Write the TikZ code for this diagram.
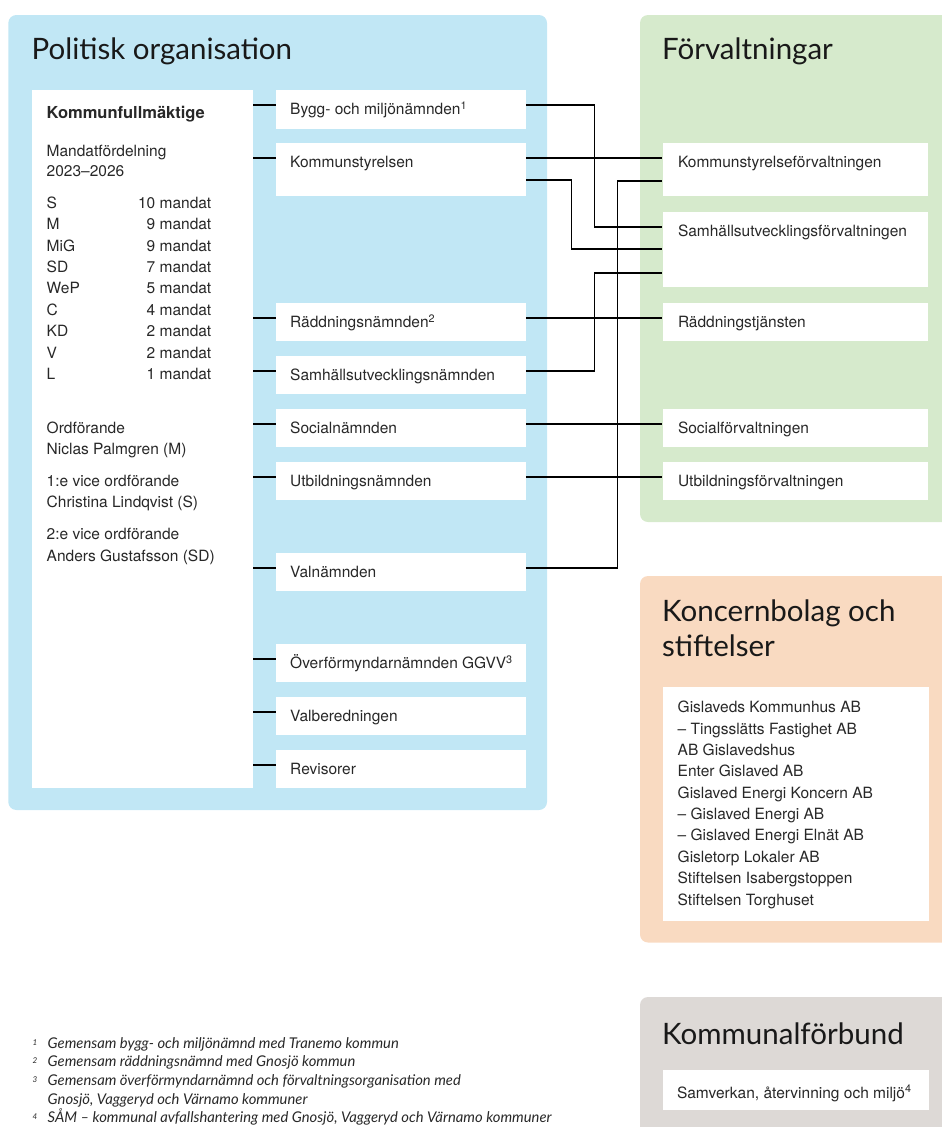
\documentclass[tikz,border=0pt]{standalone}
\usepackage{fontspec}
\setmainfont{TeX Gyre Heros}
\newfontfamily\titlefont{Lato}
\usetikzlibrary{calc}
\definecolor{polblue}{RGB}{193,231,245}
\definecolor{forgreen}{RGB}{214,234,204}
\definecolor{konorange}{RGB}{249,218,193}
\definecolor{kfgrey}{RGB}{221,217,214}
\definecolor{txtgray}{RGB}{40,40,40}
\begin{document}
\begin{tikzpicture}[x=1pt,y=-1pt,
  panel/.style={rounded corners=8pt},
  wbox/.style={fill=white, draw=none, inner sep=0pt, anchor=north west, minimum width=250pt, minimum height=37.5pt},
  gbox/.style={wbox, minimum width=265.5pt},
  txt/.style={anchor=base west, inner sep=0pt, text=txtgray, font=\fontsize{15.5}{18}\selectfont},
  ttl/.style={anchor=base west, inner sep=0pt, text=black!90, font=\titlefont\fontsize{29.5}{35}\selectfont},
  fn/.style={anchor=base west, inner sep=0pt, text=txtgray, font=\titlefont\itshape\fontsize{14.8}{17}\selectfont},
  fnn/.style={anchor=base west, inner sep=0pt, text=txtgray, font=\titlefont\itshape\fontsize{8}{9}\selectfont},
  conn/.style={draw=black, line width=1.4pt}]
\useasboundingbox (0,0) rectangle (942,1127);
% panels
\fill[polblue, panel] (8.3,15) rectangle (547,810);
\fill[forgreen, panel] (640,15) rectangle (970,522);
\fill[konorange, panel] (640,576) rectangle (970,942.5);
\fill[kfgrey, panel] (640,997) rectangle (970,1160);
% titles
\node[ttl] (t-pol) at (31.5,59.3) {Politisk organisation};
\node[ttl] (t-for) at (662,59.3) {Förvaltningar};
\node[ttl] (t-kon1) at (662,621.7) {Koncernbolag och};
\node[ttl] (t-kon2) at (662,656.7) {stiftelser};
\node[ttl] (t-kf) at (662,1044) {Kommunalförbund};
% Kommunfullmäktige box
\node[wbox, minimum width=220.6pt, minimum height=697.3pt] (kf) at (31.7,90) {};
\node[txt, font=\bfseries\fontsize{16.5}{18}\selectfont] (kf-t) at (46.5,118) {Kommunfullmäktige};
\node[txt] (kf-m1) at (46.5,156) {Mandatfördelning};
\node[txt] (kf-m2) at (46.5,176.7) {2023–2026};
\foreach \p/\n [count=\i from 0] in {S/10, M/9, MiG/9, SD/7, WeP/5, C/4, KD/2, V/2, L/1}{
  \node[txt] (kf-p\i) at (46.5,{208.3+21.4*\i}) {\p};
  \node[txt, anchor=base east] (kf-n\i) at (211.5,{208.3+21.4*\i}) {\n\ mandat};
}
\node[txt] (kf-o1) at (46.5,433.3) {Ordförande};
\node[txt] (kf-o2) at (46.5,454) {Niclas Palmgren (M)};
\node[txt] (kf-o3) at (46.5,486) {1:e vice ordförande};
\node[txt] (kf-o4) at (46.5,507.7) {Christina Lindqvist (S)};
\node[txt] (kf-o5) at (46.5,539.3) {2:e vice ordförande};
\node[txt] (kf-o6) at (46.5,561) {Anders Gustafsson (SD)};
% political boxes
\node[wbox, minimum height=38.3pt] (bygg) at (275.5,90) {};
\node[wbox, minimum height=53pt] (ks) at (275.5,143) {};
\node[wbox] (radd) at (275.5,303) {};
\node[wbox] (sun) at (275.5,356) {};
\node[wbox] (soc) at (275.5,409) {};
\node[wbox] (utb) at (275.5,462) {};
\node[wbox] (valn) at (275.5,553) {};
\node[wbox] (overf) at (275.5,644) {};
\node[wbox] (valb) at (275.5,697) {};
\node[wbox] (rev) at (275.5,750) {};
\foreach \b/\t in {bygg/{Bygg- och miljönämnden\textsuperscript{1}}, ks/Kommunstyrelsen, radd/{Räddningsnämnden\textsuperscript{2}}, sun/Samhällsutvecklingsnämnden, soc/Socialnämnden, utb/Utbildningsnämnden, valn/Valnämnden, overf/{Överförmyndarnämnden GGVV\textsuperscript{3}}, valb/Valberedningen, rev/Revisorer}{
  \node[txt] (\b-t) at ($(\b.north west)+(14.5,24.7)$) {\t};
  \coordinate (\b-l) at ($(\b.north west)+(0,15)$);
  \draw[conn] (\b-l) -- (\b-l -| kf.east);
}
% förvaltningar boxes
\node[gbox, minimum height=52.7pt] (ksf) at (662.3,143) {};
\node[gbox, minimum height=75pt] (suf) at (662.3,212) {};
\node[gbox] (rt) at (662.3,303) {};
\node[gbox] (sf) at (662.3,409) {};
\node[gbox] (uf) at (662.3,462) {};
\foreach \b/\t in {ksf/Kommunstyrelseförvaltningen, suf/Samhällsutvecklingsförvaltningen, rt/Räddningstjänsten, sf/Socialförvaltningen, uf/Utbildningsförvaltningen}{
  \node[txt] (\b-t) at ($(\b.north west)+(15.5,24.7)$) {\t};
}
% connector end points
\coordinate (bygg-r) at ($(bygg.north east)+(0,15)$);
\coordinate (ks-r1) at ($(ks.north east)+(0,15)$);
\coordinate (ks-r2) at ($(ks.north east)+(0,37)$);
\coordinate (radd-r) at ($(radd.north east)+(0,15)$);
\coordinate (sun-r) at ($(sun.north east)+(0,15)$);
\coordinate (soc-r) at ($(soc.north east)+(0,15)$);
\coordinate (utb-r) at ($(utb.north east)+(0,15)$);
\coordinate (valn-r) at ($(valn.north east)+(0,15)$);
\coordinate (ksf-l1) at ($(ksf.north west)+(0,15)$);
\coordinate (ksf-l2) at ($(ksf.north west)+(0,38)$);
\coordinate (suf-l1) at ($(suf.north west)+(0,15)$);
\coordinate (suf-l2) at ($(suf.north west)+(0,37)$);
\coordinate (suf-l3) at ($(suf.north west)+(0,61)$);
\coordinate (rt-l) at ($(rt.north west)+(0,15)$);
\coordinate (sf-l) at ($(sf.north west)+(0,15)$);
\coordinate (uf-l) at ($(uf.north west)+(0,15)$);
% connectors
\draw[conn] (bygg-r) -- ++(68.5,0) |- (suf-l1);
\draw[conn] (ks-r1) -- (ksf-l1);
\draw[conn] (ks-r2) -- ++(45.5,0) |- (suf-l2);
\draw[conn] (radd-r) -- (rt-l);
\draw[conn] (sun-r) -- ++(68.5,0) |- (suf-l3);
\draw[conn] (soc-r) -- (sf-l);
\draw[conn] (utb-r) -- (uf-l);
\draw[conn] (valn-r) -- ++(91.5,0) |- (ksf-l2);
% koncern box
\node[wbox, minimum width=266pt, minimum height=234.3pt] (kon) at (662.3,686.7) {};
\foreach \t [count=\i from 0] in {Gislaveds Kommunhus AB, – Tingsslätts Fastighet AB, AB Gislavedshus, Enter Gislaved AB, Gislaved Energi Koncern AB, – Gislaved Energi AB, – Gislaved Energi Elnät AB, Gisletorp Lokaler AB, Stiftelsen Isabergstoppen, Stiftelsen Torghuset}{
  \node[txt] (kon-\i) at (677.5,{712.7+21.37*\i}) {\t};
}
% kommunalförbund box
\node[wbox, minimum width=266pt, minimum height=40pt] (sam) at (662.3,1070) {};
\node[txt] (sam-t) at ($(sam.north west)+(14.5,28)$) {Samverkan, återvinning och miljö\textsuperscript{4}};
% footnotes
\node[fnn] (f1n) at (32.5,1045) {1};
\node[fn] (f1) at (47.5,1048.3) {Gemensam bygg- och miljönämnd med Tranemo kommun};
\node[fnn] (f2n) at (32.5,1063.5) {2};
\node[fn] (f2) at (47.5,1066.8) {Gemensam räddningsnämnd med Gnosjö kommun};
\node[fnn] (f3n) at (32.5,1082.5) {3};
\node[fn] (f3) at (47.5,1085.8) {Gemensam överförmyndarnämnd och förvaltningsorganisation med};
\node[fn] (f3b) at (47.5,1104.2) {Gnosjö, Vaggeryd och Värnamo kommuner};
\node[fnn] (f4n) at (32.5,1119.5) {4};
\node[fn] (f4) at (47.5,1122.7) {SÅM – kommunal avfallshantering med Gnosjö, Vaggeryd och Värnamo kommuner};
\end{tikzpicture}
\end{document}
